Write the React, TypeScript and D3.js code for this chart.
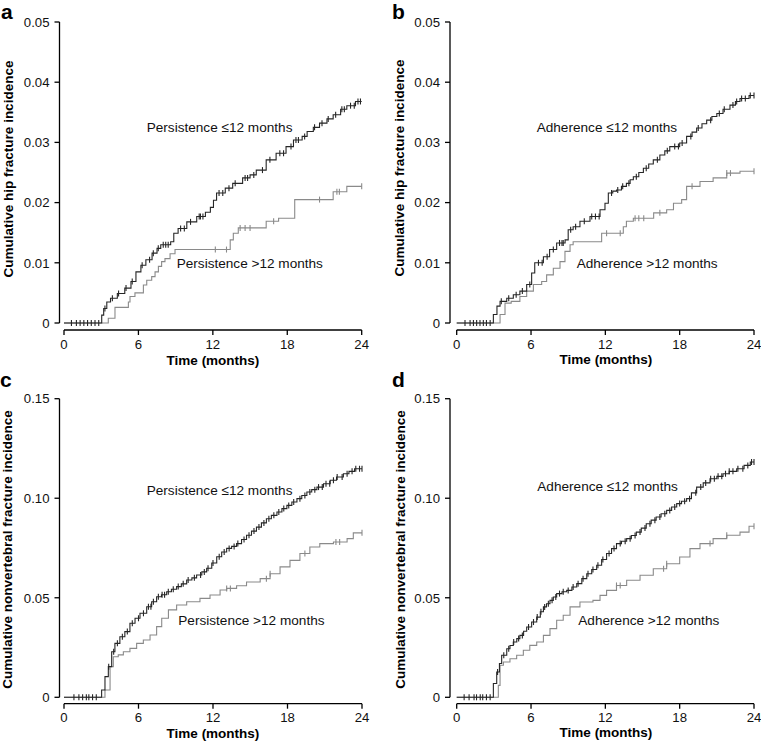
import React from "react";
import * as d3 from "d3";

type Pt = [number, number];

// ---------- axis ticks ----------
const TIME_TICKS = [0, 6, 12, 18, 24];
const HIP_TICKS = [0, 0.01, 0.02, 0.03, 0.04, 0.05];
const HIP_TICK_LABELS = ["0", "0.01", "0.02", "0.03", "0.04", "0.05"];
const NV_TICKS = [0, 0.05, 0.1, 0.15];
const NV_TICK_LABELS = ["0", "0.05", "0.10", "0.15"];

// ---------- panel a: hip fracture, persistence ----------
const hipPersistLow: Pt[] = [
  [0, 0], [3.04, 0.0013], [3.2, 0.0024], [3.45, 0.0035], [3.75, 0.0041], [4.3, 0.0049],
  [4.9, 0.0058], [5.4, 0.0069], [5.8, 0.0085], [6.2, 0.0096], [6.6, 0.0105], [7.1, 0.0116],
  [7.5, 0.0124], [7.8, 0.013], [8.6, 0.0135], [8.85, 0.0149], [9.2, 0.0157], [9.9, 0.0168],
  [10.7, 0.0177], [11.4, 0.0184], [11.8, 0.0192], [12.05, 0.0204], [12.3, 0.0216], [13.0, 0.0224],
  [13.6, 0.0232], [14.4, 0.0241], [15.0, 0.0246], [15.5, 0.0254], [16.3, 0.0271], [17.1, 0.0282],
  [17.9, 0.0293], [18.5, 0.0304], [19.2, 0.031], [19.6, 0.0318], [20.1, 0.0325], [20.6, 0.0332],
  [21.2, 0.0339], [21.7, 0.0346], [22.3, 0.0355], [22.8, 0.0361], [23.5, 0.0368],
];
const hipPersistLowCensor = [
  0.6, 1.0, 1.3, 1.6, 1.9, 2.2, 2.5, 2.8, 3.3, 3.9, 4.4, 5.0, 5.5, 6.3, 6.9, 7.2, 7.6, 8.0, 8.2,
  8.4, 9.4, 9.7, 10.2, 10.9, 11.0, 11.2, 12.5, 12.8, 13.3, 13.8, 14.6, 14.8, 15.3, 16.0, 16.6,
  17.4, 17.7, 18.3, 18.7, 18.9, 19.4, 20.2, 20.8, 21.3, 21.9, 22.4, 22.6, 23.1, 23.4, 23.7, 23.9,
];
const hipPersistHigh: Pt[] = [
  [0, 0], [3.57, 0.0008], [4.11, 0.0026], [5.19, 0.0035], [5.32, 0.0044], [5.72, 0.005],
  [6.4, 0.0063], [6.67, 0.0071], [7.07, 0.0077], [7.34, 0.0085], [7.61, 0.0094], [7.87, 0.0102],
  [8.14, 0.0107], [8.55, 0.0115], [8.95, 0.0122], [13.4, 0.0138], [13.65, 0.0149], [14.05, 0.0158],
  [16.3, 0.0169], [17.3, 0.0174], [18.6, 0.0205], [21.7, 0.0218], [22.8, 0.0227],
];
const hipPersistHighCensor = [12.2, 13.1, 14.2, 14.6, 15.0, 16.9, 20.6, 22.0, 22.2, 24.0];

// ---------- panel b: hip fracture, adherence ----------
const hipAdhereLow: Pt[] = [
  [0, 0], [2.96, 0.0014], [3.25, 0.0028], [3.5, 0.0036], [4.04, 0.0041], [4.57, 0.0047],
  [5.1, 0.0053], [5.65, 0.0064], [6.05, 0.0083], [6.3, 0.01], [7.0, 0.011], [7.5, 0.0122],
  [8.07, 0.0133], [8.75, 0.0138], [9.0, 0.0155], [9.4, 0.016], [9.95, 0.0169], [10.76, 0.0177],
  [11.57, 0.0188], [11.97, 0.0199], [12.24, 0.0216], [12.6, 0.0219], [12.9, 0.0221], [13.3, 0.0227],
  [13.7, 0.0232], [14.0, 0.0238], [14.26, 0.0243], [14.7, 0.025], [15.07, 0.0257], [15.5, 0.0264],
  [15.87, 0.0271], [16.4, 0.0279], [16.8, 0.0286], [17.2, 0.0293], [18.0, 0.0299], [18.56, 0.031],
  [19.0, 0.0317], [19.37, 0.0324], [19.8, 0.0331], [20.18, 0.0337], [20.6, 0.0343], [21.0, 0.0348],
  [21.5, 0.0355], [22.06, 0.0362], [22.5, 0.0368], [22.87, 0.0373], [23.6, 0.0378],
];
const hipAdhereLowCensor = [
  0.67, 1.08, 1.35, 1.61, 1.88, 2.15, 2.4, 2.7, 3.6, 4.2, 4.8, 5.3, 5.9, 6.6, 6.9, 7.3, 7.8, 8.3,
  8.5, 8.6, 9.2, 9.6, 10.3, 10.9, 11.2, 11.5, 12.5, 13.0, 13.4, 13.9, 14.5, 15.3, 16.2, 17.0,
  17.6, 17.9, 18.2, 18.9, 19.5, 20.5, 21.2, 21.6, 22.3, 22.6, 23.0, 23.3, 23.7, 24.0,
];
const hipAdhereHigh: Pt[] = [
  [0, 0], [3.5, 0.0014], [3.9, 0.0033], [4.4, 0.0036], [5.1, 0.0044], [5.65, 0.0053],
  [6.19, 0.0064], [6.86, 0.0069], [7.26, 0.008], [7.8, 0.0091], [8.34, 0.0102], [8.74, 0.0119],
  [9.15, 0.013], [9.4, 0.0135], [11.7, 0.0149], [13.45, 0.016], [13.7, 0.0169], [14.26, 0.0174],
  [15.9, 0.0183], [16.95, 0.0188], [17.5, 0.0199], [18.16, 0.0205], [18.56, 0.0227], [19.64, 0.0235],
  [20.7, 0.0241], [21.8, 0.0249], [22.87, 0.0252],
];
const hipAdhereHighCensor = [12.1, 13.2, 14.4, 14.7, 15.1, 16.4, 19.0, 21.8, 22.1, 24.0];

// ---------- panel c: nonvertebral fracture, persistence ----------
const nvPersistLow: Pt[] = [
  [0, 0], [3.03, 0.0037], [3.3, 0.0104], [3.57, 0.0154], [3.84, 0.0229], [4.1, 0.0271],
  [4.5, 0.0304], [4.9, 0.033], [5.31, 0.0372], [5.72, 0.0397], [6.12, 0.0422], [6.66, 0.0455],
  [7.06, 0.048], [7.46, 0.0505], [7.85, 0.0515], [8.27, 0.053], [8.65, 0.0543], [9.07, 0.0556],
  [9.45, 0.057], [9.88, 0.0589], [10.3, 0.06], [10.68, 0.0614], [11.1, 0.063], [11.49, 0.0648],
  [11.9, 0.0675], [12.3, 0.0706], [12.7, 0.073], [13.1, 0.0748], [13.5, 0.0758], [13.9, 0.0772],
  [14.3, 0.0793], [14.7, 0.0814], [15.1, 0.0835], [15.5, 0.0855], [15.9, 0.0876], [16.3, 0.0897],
  [16.7, 0.0914], [17.15, 0.0931], [17.55, 0.0948], [17.95, 0.0964], [18.35, 0.0981], [18.76, 0.0998],
  [19.15, 0.1014], [19.56, 0.1031], [19.95, 0.1043], [20.37, 0.1056], [20.9, 0.1073], [21.44, 0.109],
  [21.95, 0.1107], [22.5, 0.1123], [22.95, 0.1135], [23.4, 0.1148],
];
const nvPersistLowCensor = [
  0.8, 1.2, 1.5, 1.8, 2.0, 2.3, 2.6, 3.6, 4.0, 4.3, 4.7, 5.1, 5.5, 6.0, 6.4, 6.8, 7.0, 7.2, 7.6,
  7.9, 8.1, 8.4, 8.8, 9.2, 9.6, 10.0, 10.5, 11.0, 11.3, 11.6, 12.0, 12.5, 12.9, 13.3, 13.7, 14.0,
  14.5, 14.9, 15.3, 15.7, 16.1, 16.5, 16.9, 17.3, 17.7, 18.1, 18.5, 19.0, 19.4, 19.8, 20.2, 20.5,
  20.8, 21.1, 21.4, 21.7, 22.0, 22.4, 22.8, 23.2, 23.5, 23.8, 24.0,
];
const nvPersistHigh: Pt[] = [
  [0, 0], [3.3, 0.0037], [3.71, 0.0154], [3.97, 0.0204], [4.37, 0.0213], [4.78, 0.0229],
  [5.31, 0.0246], [5.85, 0.0271], [6.39, 0.0288], [6.93, 0.0313], [7.46, 0.0355], [7.87, 0.0397],
  [8.41, 0.0439], [9.07, 0.0464], [9.88, 0.048], [10.95, 0.0497], [11.76, 0.0514], [12.57, 0.0539],
  [13.1, 0.0547], [13.9, 0.056], [14.7, 0.0579], [15.8, 0.0596], [16.6, 0.0621], [17.4, 0.0655],
  [18.2, 0.0688], [19.0, 0.0722], [19.8, 0.0755], [20.6, 0.0772], [21.7, 0.078], [22.8, 0.0797],
  [23.3, 0.0826],
];
const nvPersistHighCensor = [13.1, 13.4, 16.3, 16.6, 19.4, 21.9, 22.2, 24.0];

// ---------- panel d: nonvertebral fracture, adherence ----------
const nvAdhereLow: Pt[] = [
  [0, 0], [2.96, 0.0069], [3.23, 0.0127], [3.45, 0.017], [3.63, 0.0211], [4.04, 0.0244],
  [4.3, 0.026], [4.57, 0.0278], [4.85, 0.0295], [5.1, 0.0311], [5.4, 0.0332], [5.65, 0.0353],
  [6.05, 0.0378], [6.46, 0.0403], [6.75, 0.043], [7.0, 0.0454], [7.25, 0.047], [7.53, 0.0487],
  [7.8, 0.0504], [8.07, 0.0521], [8.5, 0.053], [8.88, 0.0537], [9.3, 0.0554], [9.69, 0.0571],
  [10.1, 0.0596], [10.5, 0.0621], [10.9, 0.0642], [11.3, 0.0663], [11.7, 0.0692], [12.1, 0.0722],
  [12.5, 0.0747], [12.9, 0.0772], [13.3, 0.0784], [13.72, 0.0797], [14.1, 0.0813], [14.5, 0.083],
  [14.9, 0.085], [15.3, 0.0872], [15.7, 0.089], [16.1, 0.0906], [16.5, 0.0922], [16.95, 0.0939],
  [17.35, 0.0956], [17.76, 0.0973], [18.15, 0.0985], [18.56, 0.0998], [18.95, 0.1027], [19.37, 0.1056],
  [19.9, 0.1077], [20.45, 0.1098], [21.0, 0.111], [21.5, 0.1123], [22.0, 0.1135], [22.6, 0.1148],
  [23.2, 0.1165], [23.7, 0.1182],
];
const nvAdhereLowCensor = [
  0.6, 1.0, 1.4, 1.6, 1.9, 2.1, 2.4, 2.7, 3.3, 3.8, 4.2, 4.6, 5.0, 5.3, 5.8, 6.2, 6.5, 6.8, 7.1,
  7.4, 7.7, 8.0, 8.3, 8.6, 9.0, 9.4, 9.8, 10.2, 10.6, 11.0, 11.4, 11.8, 12.3, 12.7, 13.2, 13.6,
  14.0, 14.4, 14.8, 15.2, 15.6, 16.0, 16.4, 16.8, 17.2, 17.6, 18.0, 18.4, 18.8, 19.3, 19.7, 20.1,
  20.5, 20.8, 21.1, 21.4, 21.7, 22.0, 22.3, 22.7, 23.1, 23.5, 23.8, 24.0,
];
const nvAdhereHigh: Pt[] = [
  [0, 0], [3.36, 0.006], [3.5, 0.0161], [3.77, 0.0177], [4.3, 0.0194], [4.84, 0.0211],
  [5.38, 0.0236], [5.9, 0.0261], [6.46, 0.0278], [7.0, 0.0311], [7.53, 0.0345], [8.07, 0.0387],
  [8.6, 0.0412], [9.15, 0.0454], [9.95, 0.0479], [11.0, 0.0487], [11.57, 0.0512], [12.1, 0.0537],
  [12.9, 0.0562], [13.72, 0.0588], [14.8, 0.0613], [15.87, 0.0646], [16.95, 0.0671], [18.0, 0.0705],
  [18.83, 0.0747], [19.64, 0.0772], [20.7, 0.0797], [21.8, 0.0814], [22.87, 0.083], [23.6, 0.0859],
];
const nvAdhereHighCensor = [12.9, 13.2, 16.7, 16.95, 20.45, 21.8, 24.0];

// ---------- text ----------
const PANEL_LETTERS = ["a", "b", "c", "d"];
const Y_TITLES = [
  "Cumulative hip fracture incidence",
  "Cumulative hip fracture incidence",
  "Cumulative nonvertebral fracture incidence",
  "Cumulative nonvertebral fracture incidence",
];
const X_TITLE = "Time (months)";
const LOW_LABELS = ["Persistence ≤12 months", "Adherence ≤12 months", "Persistence ≤12 months", "Adherence ≤12 months"];
const HIGH_LABELS = ["Persistence >12 months", "Adherence >12 months", "Persistence >12 months", "Adherence >12 months"];

const FONT = "'Liberation Sans', Arial, Helvetica, sans-serif";
const DARK = "#262626";
const LIGHT = "#8a8a8a";

type Layout = {
  x0: number; x1: number; yTop: number; yBot: number; axisX: number; axisY: number;
  letterX: number; letterY: number; ytX: number; ytY: number; xtY: number; xtX: number;
  lowX: number; lowY: number; highX: number; highY: number;
};

const LAYOUTS: Layout[] = [
  { x0: 64, x1: 361.7, yTop: 22, yBot: 323, axisX: 59.5, axisY: 330, letterX: 1, letterY: 18.5,
    ytX: 12.5, ytY: 169, xtY: 364.5, xtX: 213, lowX: 146.7, lowY: 131.5, highX: 176.7, highY: 268 },
  { x0: 456.7, x1: 754, yTop: 22, yBot: 323, axisX: 450, axisY: 330, letterX: 392, letterY: 18.5,
    ytX: 404, ytY: 168, xtY: 363.5, xtX: 606, lowX: 536.7, lowY: 131.5, highX: 576.7, highY: 268 },
  { x0: 64, x1: 362, yTop: 398.7, yBot: 697.3, axisX: 59.5, axisY: 703.7, letterX: 0, letterY: 387,
    ytX: 11.5, ytY: 549.5, xtY: 738.3, xtX: 213, lowX: 146.7, lowY: 495, highX: 178.3, highY: 624.5 },
  { x0: 456.7, x1: 754, yTop: 398.7, yBot: 697.3, axisX: 450, axisY: 703.7, letterX: 392, letterY: 387,
    ytX: 404.5, ytY: 549.5, xtY: 737.3, xtX: 606, lowX: 537.3, lowY: 491, highX: 578.3, highY: 624.5 },
];

const PANELS = [
  { low: hipPersistLow, lowC: hipPersistLowCensor, high: hipPersistHigh, highC: hipPersistHighCensor, yMax: 0.05, ticks: HIP_TICKS, tickLabels: HIP_TICK_LABELS },
  { low: hipAdhereLow, lowC: hipAdhereLowCensor, high: hipAdhereHigh, highC: hipAdhereHighCensor, yMax: 0.05, ticks: HIP_TICKS, tickLabels: HIP_TICK_LABELS },
  { low: nvPersistLow, lowC: nvPersistLowCensor, high: nvPersistHigh, highC: nvPersistHighCensor, yMax: 0.15, ticks: NV_TICKS, tickLabels: NV_TICK_LABELS },
  { low: nvAdhereLow, lowC: nvAdhereLowCensor, high: nvAdhereHigh, highC: nvAdhereHighCensor, yMax: 0.15, ticks: NV_TICKS, tickLabels: NV_TICK_LABELS },
];

const bis = d3.bisector((d: Pt) => d[0]).right;
function valueAt(s: Pt[], t: number) {
  const i = Math.max(0, bis(s, t) - 1);
  return s[i][1];
}

function Curve({ series, censor, x, y, color, endT }: any) {
  const pts: Pt[] = [...series, [endT, series[series.length - 1][1]]];
  const line = d3
    .line<Pt>()
    .x((d) => x(d[0]))
    .y((d) => y(d[1]))
    .curve(d3.curveStepAfter);
  return (
    <g>
      <path d={line(pts) || ""} fill="none" stroke={color} strokeWidth={1.1} />
      {censor.map((t: number, i: number) => {
        const cx = x(t);
        const cy = y(valueAt(series, t));
        return <line key={i} x1={cx} x2={cx} y1={cy - 3} y2={cy + 3} stroke={color} strokeWidth={1.1} />;
      })}
    </g>
  );
}

function Panel({ idx }: { idx: number }) {
  const L = LAYOUTS[idx];
  const P = PANELS[idx];
  const x = d3.scaleLinear().domain([0, 24]).range([L.x0, L.x1]);
  const y = d3.scaleLinear().domain([0, P.yMax]).range([L.yBot, L.yTop]);
  return (
    <g fontFamily={FONT}>
      <text x={L.letterX} y={L.letterY} fontSize={21} fontWeight="bold" fill="#000">
        {PANEL_LETTERS[idx]}
      </text>
      {/* y axis */}
      <line x1={L.axisX} x2={L.axisX} y1={y(P.yMax)} y2={y(0)} stroke="#000" strokeWidth={1.3} />
      {P.ticks.map((v, i) => (
        <g key={i}>
          <line x1={L.axisX - 5} x2={L.axisX} y1={y(v)} y2={y(v)} stroke="#000" strokeWidth={1.3} />
          <text x={L.axisX - 10} y={y(v)} dy="0.36em" textAnchor="end" fontSize={13.2} fill="#111">
            {P.tickLabels[i]}
          </text>
        </g>
      ))}
      {/* x axis */}
      <line x1={x(0)} x2={x(24)} y1={L.axisY} y2={L.axisY} stroke="#000" strokeWidth={1.3} />
      {TIME_TICKS.map((t, i) => (
        <g key={i}>
          <line x1={x(t)} x2={x(t)} y1={L.axisY} y2={L.axisY + 5} stroke="#000" strokeWidth={1.3} />
          <text x={x(t)} y={L.axisY + 18.5} textAnchor="middle" fontSize={13.2} fill="#111">
            {t}
          </text>
        </g>
      ))}
      <text x={L.xtX} y={L.xtY} textAnchor="middle" fontSize={13.5} fontWeight="bold" fill="#000">
        {X_TITLE}
      </text>
      <text
        transform={`translate(${L.ytX},${L.ytY}) rotate(-90)`}
        textAnchor="middle"
        fontSize={13.5}
        fontWeight="bold"
        fill="#000"
      >
        {Y_TITLES[idx]}
      </text>
      <Curve series={P.high} censor={P.highC} x={x} y={y} color={LIGHT} endT={24} />
      <Curve series={P.low} censor={P.lowC} x={x} y={y} color={DARK} endT={24} />
      <text x={L.lowX} y={L.lowY} fontSize={13.6} fill="#111">
        {LOW_LABELS[idx]}
      </text>
      <text x={L.highX} y={L.highY} fontSize={13.6} fill="#111">
        {HIGH_LABELS[idx]}
      </text>
    </g>
  );
}

export default function App() {
  return (
    <svg
      width={761}
      height={744}
      viewBox="0 0 761 744"
      style={{ position: "absolute", left: 0, top: 0, background: "#fff" }}
    >
      <rect x={0} y={0} width={761} height={744} fill="#fff" />
      {[0, 1, 2, 3].map((i) => (
        <Panel key={i} idx={i} />
      ))}
    </svg>
  );
}
